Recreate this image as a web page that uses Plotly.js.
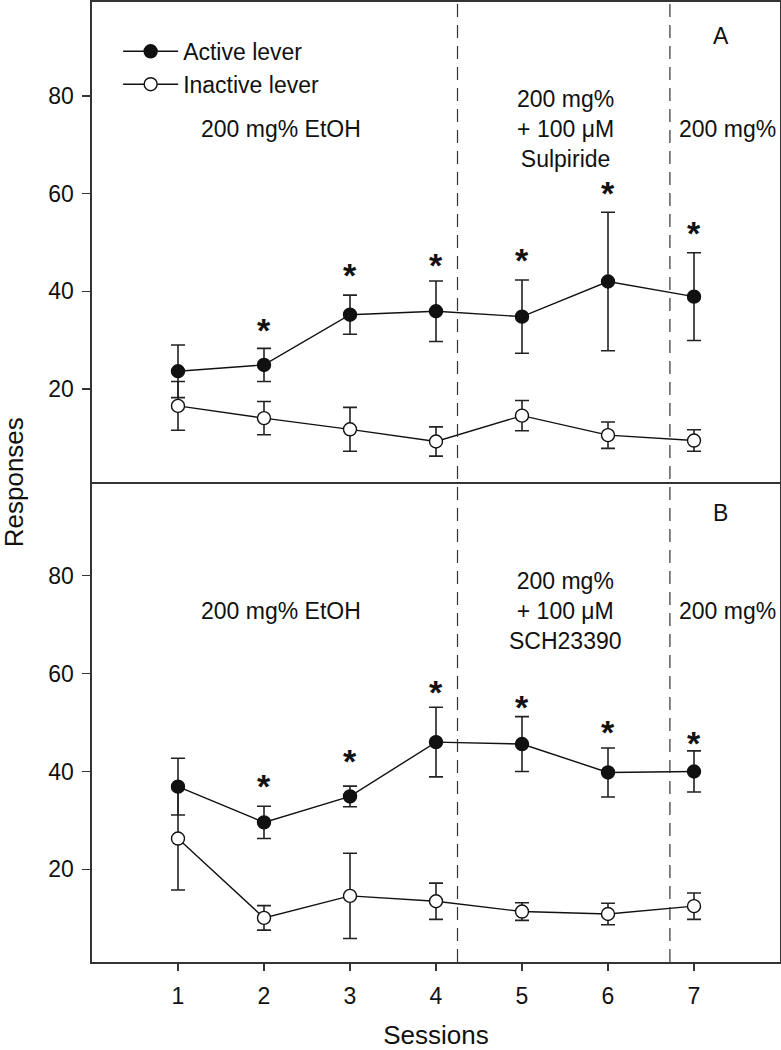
<!DOCTYPE html>
<html><head><meta charset="utf-8">
<script src="https://cdn.plot.ly/plotly-3.0.1.min.js"></script>
<style>html,body{margin:0;padding:0;background:#fff}#chart{width:781px;height:1050px}</style>
</head><body><div id="chart"></div><script>
// ---- data ----
const sessions = [1, 2, 3, 4, 5, 6, 7];
const sessionTicks = ['1', '2', '3', '4', '5', '6', '7'];
const yTicks = [20, 40, 60, 80];

// Panel A (Sulpiride)
const activeA = [23.6, 24.9, 35.2, 35.9, 34.8, 42.0, 38.9];
const activeA_err = [5.4, 3.4, 4.0, 6.2, 7.5, 14.2, 9.0];
const inactiveA = [16.5, 14.0, 11.7, 9.2, 14.5, 10.5, 9.4];
const inactiveA_err = [5.0, 3.4, 4.5, 3.0, 3.1, 2.7, 2.2];
const sigA = [null, 33.5, 44.8, 46.9, 47.8, 61.5, 53.3];

// Panel B (SCH23390)
const activeB = [36.9, 29.6, 34.9, 46.0, 45.6, 39.8, 40.0];
const activeB_err = [5.8, 3.3, 2.1, 7.1, 5.6, 5.0, 4.2];
const inactiveB = [26.3, 10.1, 14.6, 13.5, 11.4, 10.9, 12.5];
const inactiveB_err = [10.5, 2.5, 8.7, 3.7, 1.8, 2.2, 2.7];
const sigB = [null, 38.4, 43.6, 57.7, 54.5, 49.4, 47.2];

const phaseBounds = [4.25, 6.72];
const labelsA = ['200 mg% EtOH', '200 mg%<br>+ 100 \u03bcM<br>Sulpiride', '200 mg%', 'A'];
const labelsB = ['200 mg% EtOH', '200 mg%<br>+ 100 \u03bcM<br>SCH23390', '200 mg%', 'B'];
const seriesNames = ['Active lever', 'Inactive lever'];

// ---- styling ----
const FONT = 'Liberation Sans, Arial, sans-serif';
const INK = '#111';
const FS = 23;

function series(y, err, name, filled, xa, ya, showLegend) {
  return {
    x: sessions, y: y, name: name, type: 'scatter', mode: 'lines+markers',
    xaxis: xa, yaxis: ya, showlegend: showLegend, legendgroup: name,
    line: {color: INK, width: 1.4},
    marker: {symbol: 'circle', size: 13, color: filled ? INK : '#fff', line: {color: INK, width: 1.4}},
    error_y: {type: 'data', array: err, visible: true, color: '#222', thickness: 1.6, width: 7},
    cliponaxis: false
  };
}

const traces = [
  series(inactiveA, inactiveA_err, seriesNames[1], false, 'x2', 'y2', false),
  series(activeA, activeA_err, seriesNames[0], true, 'x2', 'y2', true),
  series(inactiveB, inactiveB_err, seriesNames[1], false, 'x', 'y', false),
  series(activeB, activeB_err, seriesNames[0], true, 'x', 'y', false),
];
traces.push(Object.assign(series([null], [0], seriesNames[1], false, 'x2', 'y2', true), {x: [null]}));

const annotations = [];
function star(levels, xa, ya) {
  levels.forEach((v, i) => {
    if (v === null) return;
    annotations.push({x: sessions[i], y: v, xref: xa, yref: ya, text: '<b>*</b>', showarrow: false,
      font: {family: FONT, size: 34, color: INK}, xanchor: 'center', yanchor: 'middle', yshift: -7});
  });
}
star(sigA, 'x2', 'y2');
star(sigB, 'x', 'y');

function phaseLabels(labels, xa, ya, yMain, yLetter) {
  const f = {family: FONT, size: FS, color: INK};
  annotations.push({x: 2.2, y: yMain, xref: xa, yref: ya, text: labels[0], showarrow: false, font: f});
  annotations.push({x: 5.5, y: yMain, xref: xa, yref: ya, text: labels[1], showarrow: false, font: f, align: 'center'});
  annotations.push({x: 7.39, y: yMain, xref: xa, yref: ya, text: labels[2], showarrow: false, font: f});
  annotations.push({x: 7.31, y: yLetter, xref: xa, yref: ya, text: labels[3], showarrow: false, font: f});
}
phaseLabels(labelsA, 'x2', 'y2', 73.2, 92.4);
phaseLabels(labelsB, 'x', 'y', 72.8, 92.7);

annotations.push({x: -0.113, y: 0.5, xref: 'paper', yref: 'paper', text: 'Responses', textangle: -90,
  showarrow: false, font: {family: FONT, size: 26, color: INK}, xanchor: 'center', yanchor: 'middle'});

const shapes = phaseBounds.map(b => ({type: 'line', xref: 'x', yref: 'paper', x0: b, x1: b, y0: 0, y1: 1,
  line: {color: '#333', width: 1.2, dash: '13px,8px'}}));

const axisCommon = {showline: true, linecolor: '#333', linewidth: 1.6, mirror: true, showgrid: false, zeroline: false};

const layout = {
  width: 781, height: 1050,
  margin: {l: 92, r: 1, t: 2, b: 88},
  paper_bgcolor: '#fff', plot_bgcolor: '#fff',
  font: {family: FONT, size: FS, color: INK},
  showlegend: true,
  legend: {x: 0.038, y: 0.971, xanchor: 'left', yanchor: 'top', bgcolor: 'rgba(0,0,0,0)',
    font: {family: FONT, size: FS, color: INK}, tracegroupgap: 0, itemwidth: 55},
  xaxis: Object.assign({}, axisCommon, {mirror: false, domain: [0, 1], anchor: 'y', range: [0, 8],
    tickmode: 'array', tickvals: sessions, ticktext: sessionTicks, ticks: 'outside', ticklen: 7, tickwidth: 1.5,
    tickcolor: '#333', tickfont: {family: FONT, size: FS, color: INK}, ticklabelstandoff: 6,
    title: {text: 'Sessions', font: {family: FONT, size: 26, color: INK}, standoff: 24}}),
  xaxis2: Object.assign({}, axisCommon, {domain: [0, 1], anchor: 'y2', range: [0, 8], matches: 'x',
    showticklabels: false, ticks: ''}),
  yaxis: Object.assign({}, axisCommon, {domain: [0, 0.5], anchor: 'x', range: [1.1, 99.1],
    tickmode: 'array', tickvals: yTicks, ticks: 'outside', ticklen: 8, tickwidth: 1.5, tickcolor: '#333',
    tickfont: {family: FONT, size: FS, color: INK}, ticklabelstandoff: 4}),
  yaxis2: Object.assign({}, axisCommon, {domain: [0.5, 1], anchor: 'x2', range: [0.9, 99.3],
    tickmode: 'array', tickvals: yTicks, ticks: 'outside', ticklen: 8, tickwidth: 1.5, tickcolor: '#333',
    tickfont: {family: FONT, size: FS, color: INK}, ticklabelstandoff: 4}),
  annotations: annotations,
  shapes: shapes
};

Plotly.newPlot('chart', traces, layout, {staticPlot: true, displayModeBar: false});
</script></body></html>
